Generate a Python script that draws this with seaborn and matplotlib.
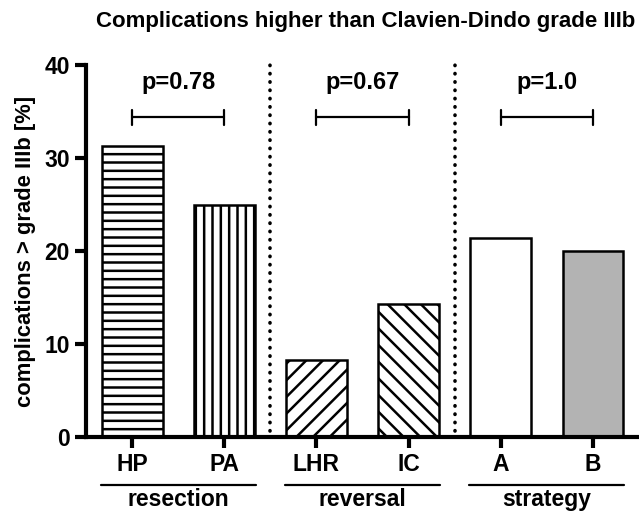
import numpy as np
import pandas as pd
import matplotlib
matplotlib.use("Agg")
import matplotlib.pyplot as plt
import seaborn as sns

# Datos
categorias = ["HP", "PA", "LHR", "IC", "A", "B"]
valores = [31.25, 25.0, 8.3, 14.3, 21.4, 20.0]
grupos = ["resection", "reversal", "strategy"]
p_valores = ["p=0.78", "p=0.67", "p=1.0"]
tramas = ["--", "||", "//", "\\\\", "", ""]
colores = ["white", "white", "white", "white", "white", "#b3b3b3"]

sns.set_style("ticks")
plt.rcParams['font.family'] = ['Liberation Sans', 'DejaVu Sans']
plt.rcParams['font.weight'] = 'bold'
plt.rcParams['hatch.linewidth'] = 1.8
plt.rcParams['hatch.color'] = 'black'
plt.rcParams['text.color'] = 'black'
plt.rcParams['axes.labelcolor'] = 'black'
plt.rcParams['axes.edgecolor'] = 'black'
plt.rcParams['xtick.color'] = 'black'
plt.rcParams['ytick.color'] = 'black'

df = pd.DataFrame({'cat': categorias, 'val': valores})

fig = plt.figure(figsize=(6.39, 5.11), dpi=100)
ax = fig.add_axes([0.1346, 0.1448, 0.8654, 0.728])

sns.barplot(data=df, x='cat', y='val', width=0.66, color='white', ax=ax,
            edgecolor='black', linewidth=1.8)
for barra, trama, color in zip(ax.patches, tramas, colores):
    barra.set_hatch(trama)
    barra.set_facecolor(color)
    barra.set_edgecolor('black')

ax.set_xlim(-0.5, 5.5)
ax.set_ylim(0, 40)
ax.set_yticks([0, 10, 20, 30, 40])
ax.set_xlabel('')
ax.set_ylabel('complications > grade IIIb [%]', fontsize=15.8, fontweight='bold', labelpad=6)
ax.tick_params(axis='both', width=3, length=8, labelsize=16.5, color='black', labelcolor='black')
for lbl in ax.get_xticklabels() + ax.get_yticklabels():
    lbl.set_fontweight('bold')
sns.despine(ax=ax)
ax.spines['left'].set_linewidth(3)
ax.spines['bottom'].set_linewidth(3)

# lineas punteadas de separacion
for xs in [1.5, 3.5]:
    ax.plot([xs, xs], [0.6, 40.3], color='black', linestyle=(0, (0.1, 2.2)),
            linewidth=2.6, dash_capstyle='round', clip_on=False)

# corchetes de significancia
for i, p in enumerate(p_valores):
    x1, x2 = 2 * i, 2 * i + 1
    ax.plot([x1, x2], [34.4, 34.4], color='black', lw=1.6)
    ax.plot([x1, x1], [33.6, 35.2], color='black', lw=1.6)
    ax.plot([x2, x2], [33.6, 35.2], color='black', lw=1.6)
    ax.text((x1 + x2) / 2, 38.1, p, ha='center', va='center', fontsize=17, fontweight='bold')

# etiquetas de grupo bajo el eje
for i, g in enumerate(grupos):
    c = 2 * i + 0.5
    ax.plot([c - 0.84, c + 0.84], [-5.2, -5.2], color='black', lw=1.6, clip_on=False)
    ax.text(c, -5.5, g, ha='center', va='top', fontsize=16.5, fontweight='bold', clip_on=False)

fig.text(366 / 639, 1 - 22 / 511, 'Complications higher than Clavien-Dindo grade IIIb',
         ha='center', va='center', fontsize=16, fontweight='bold')

plt.savefig('out.png', dpi=100)
plt.close()
